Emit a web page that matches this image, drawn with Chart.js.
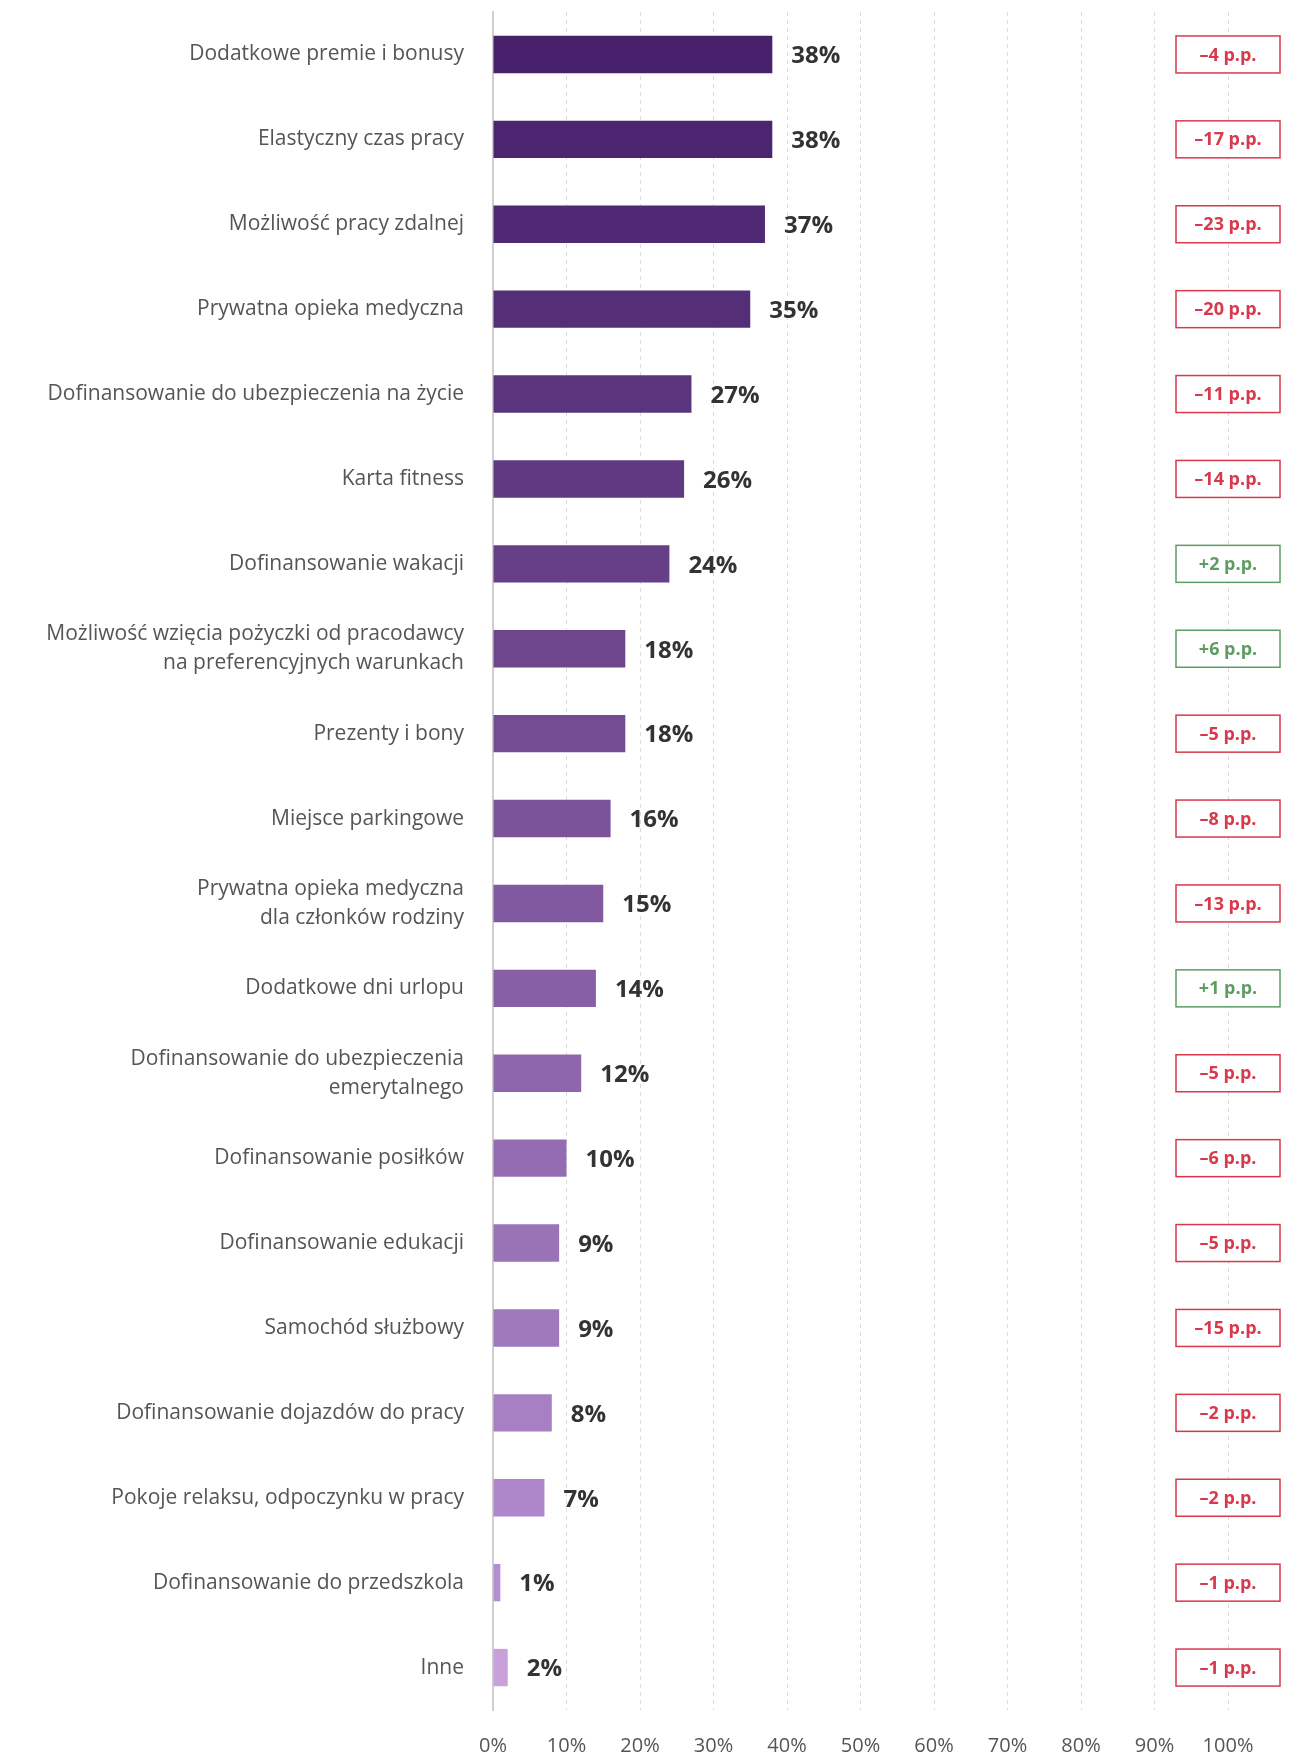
<!DOCTYPE html>
<html>
<head>
<meta charset="utf-8">
<script src="https://cdn.jsdelivr.net/npm/chart.js@4.4.0/dist/chart.umd.min.js"></script>
<style>
  html, body { margin: 0; padding: 0; background: #fff; }
  #wrap { width: 1307px; height: 1757px; position: relative; }
</style>
</head>
<body>
<div id="wrap"><canvas id="benefits"></canvas></div>
<script>
// categories (multi-line ones as arrays)
const categories = [
    'Dodatkowe premie i bonusy',
    'Elastyczny czas pracy',
    'Możliwość pracy zdalnej',
    'Prywatna opieka medyczna',
    'Dofinansowanie do ubezpieczenia na życie',
    'Karta fitness',
    'Dofinansowanie wakacji',
    ['Możliwość wzięcia pożyczki od pracodawcy', 'na preferencyjnych warunkach'],
    'Prezenty i bony',
    'Miejsce parkingowe',
    ['Prywatna opieka medyczna', 'dla członków rodziny'],
    'Dodatkowe dni urlopu',
    ['Dofinansowanie do ubezpieczenia', 'emerytalnego'],
    'Dofinansowanie posiłków',
    'Dofinansowanie edukacji',
    'Samochód służbowy',
    'Dofinansowanie dojazdów do pracy',
    'Pokoje relaksu, odpoczynku w pracy',
    'Dofinansowanie do przedszkola',
    'Inne'
];

// share of answers, %
const values = [38, 38, 37, 35, 27, 26, 24, 18, 18, 16, 15, 14, 12, 10, 9, 9, 8, 7, 1, 2];

// change vs previous edition, percentage points
const changes = [-4, -17, -23, -20, -11, -14, 2, 6, -5, -8, -13, 1, -5, -6, -5, -15, -2, -2, -1, -1];

const xTicks = [0, 10, 20, 30, 40, 50, 60, 70, 80, 90, 100];

const barColors = [
    '#47216b', '#4b256f', '#4f2973', '#542e77', '#5a347d',
    '#603982', '#673f88', '#6e468e', '#744c94', '#7b539a',
    '#8159a0', '#875fa6', '#8d66ab', '#946cb1', '#9a73b7',
    '#a079bd', '#a780c3', '#ad87c9', '#b48ecf', '#c8a0da'
];

const LABEL_FONT = '"Open Sans"';

// value labels next to bars + change boxes on the right
const annotations = {
    id: 'annotations',
    afterDatasetsDraw(chart) {
        const ctx = chart.ctx;
        const xs = chart.scales.x;
        const meta = chart.getDatasetMeta(0);
        ctx.save();
        meta.data.forEach(function (bar, i) {
            const y = bar.y;
            // value
            ctx.font = 'bold 24px ' + LABEL_FONT;
            ctx.fillStyle = '#333333';
            ctx.textAlign = 'left';
            ctx.textBaseline = 'middle';
            ctx.fillText(values[i] + '%', xs.getPixelForValue(values[i]) + 19, y + 2);

            // change box
            const c = changes[i];
            const col = c >= 0 ? '#5e9c63' : '#d8394c';
            const cx = xs.getPixelForValue(100);
            const w = 104, h = 37;
            ctx.fillStyle = '#ffffff';
            ctx.fillRect(cx - w / 2, y - h / 2, w, h);
            ctx.strokeStyle = col;
            ctx.lineWidth = 1.5;
            ctx.strokeRect(cx - w / 2, y - h / 2, w, h);
            ctx.font = 'bold 18px ' + LABEL_FONT;
            ctx.fillStyle = col;
            ctx.textAlign = 'center';
            const txt = (c > 0 ? '+' : '–') + Math.abs(c) + ' p.p.';
            ctx.fillText(txt, cx, y + 1);
        });
        ctx.restore();
    }
};

const chart = new Chart(document.getElementById('benefits'), {
    type: 'bar',
    data: {
        labels: categories,
        datasets: [{
            data: values,
            backgroundColor: barColors,
            borderWidth: 0,
            categoryPercentage: 1,
            barPercentage: 0.44
        }]
    },
    options: {
        indexAxis: 'y',
        responsive: true,
        maintainAspectRatio: false,
        animation: false,
        layout: { padding: { top: 12, right: 79, bottom: 0, left: 0 } },
        plugins: {
            legend: { display: false },
            tooltip: { enabled: false }
        },
        scales: {
            x: {
                min: 0,
                max: 100,
                afterBuildTicks: function (scale) {
                    scale.ticks = xTicks.map(v => ({ value: v }));
                },
                afterFit: function (scale) {
                    scale.height = 47;
                    scale.paddingLeft = 0;
                    scale.paddingRight = 0;
                },
                grid: { color: '#dcdcdc', lineWidth: 1, drawTicks: false },
                border: { display: false, dash: [4, 4] },
                ticks: {
                    padding: 24,
                    color: '#555555',
                    font: { family: LABEL_FONT, size: 20 },
                    callback: v => v + '%'
                }
            },
            y: {
                afterFit: function (scale) {
                    scale.width = 493;
                    scale.paddingTop = 0;
                    scale.paddingBottom = 0;
                },
                grid: { display: false, drawTicks: false },
                border: { display: true, color: '#cfcfcf', width: 2 },
                ticks: {
                    padding: 29,
                    color: '#555555',
                    font: { family: LABEL_FONT, size: 21, lineHeight: 1.4 }
                }
            }
        }
    },
    plugins: [annotations]
});
</script>
</body>
</html>
